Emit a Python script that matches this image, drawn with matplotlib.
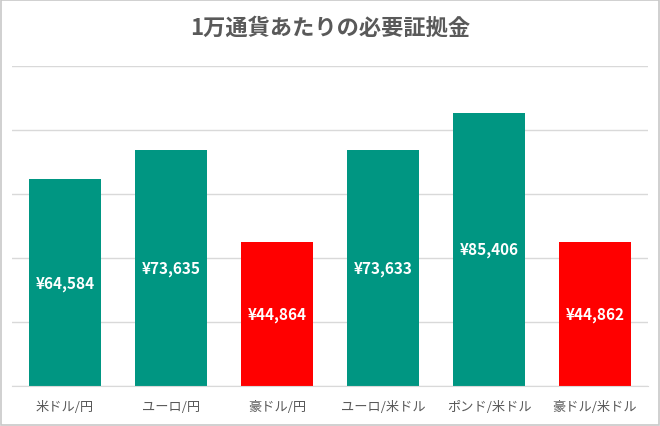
import matplotlib.pyplot as plt
from matplotlib.patches import Rectangle

plt.rcParams['font.family'] = ['Noto Sans CJK JP', 'DejaVu Sans']

# Data
pairs = ['米ドル/円', 'ユーロ/円', '豪ドル/円', 'ユーロ/米ドル', 'ポンド/米ドル', '豪ドル/米ドル']
margin = [64584, 73635, 44864, 73633, 85406, 44862]
bar_colors = ['#009682', '#009682', '#ff0000', '#009682', '#009682', '#ff0000']

fig = plt.figure(figsize=(6.6, 4.27), dpi=100)
ax = fig.add_axes([12 / 660, 40 / 427, 636 / 660, 320 / 427])

x = range(len(pairs))
bars = ax.bar(x, margin, width=0.67, color=bar_colors, zorder=2)

# labels in the middle of each bar
for b, v in zip(bars, margin):
    ax.text(b.get_x() + b.get_width() / 2, v / 2, f'¥{v:,}',
            ha='center', va='center', color='white',
            fontsize=11, fontweight='bold', zorder=3)

ax.set_xlim(-0.5, len(pairs) - 0.5)
ax.set_ylim(0, 100000)
ax.set_yticks(range(0, 100001, 20000))
ax.yaxis.grid(True, color='#d9d9d9', linewidth=1, zorder=0)
ax.tick_params(axis='y', left=False, labelleft=False)
ax.tick_params(axis='x', length=0, pad=10, labelsize=9.5, labelcolor='#595959')
ax.set_xticks(list(x))
ax.set_xticklabels(pairs)
for s in ['top', 'right', 'left']:
    ax.spines[s].set_visible(False)
ax.spines['bottom'].set_color('#d9d9d9')

fig.text(0.5, 1 - 28 / 427, '1万通貨あたりの必要証拠金', ha='center', va='center',
         fontsize=16, fontweight='bold', color='#595959')

# outer border
fig.patches.append(Rectangle((0.002, 0.002), 0.996, 0.995, transform=fig.transFigure,
                             fill=False, edgecolor='#c8c8c8', linewidth=1.2))

fig.savefig('out.png', dpi=100)
